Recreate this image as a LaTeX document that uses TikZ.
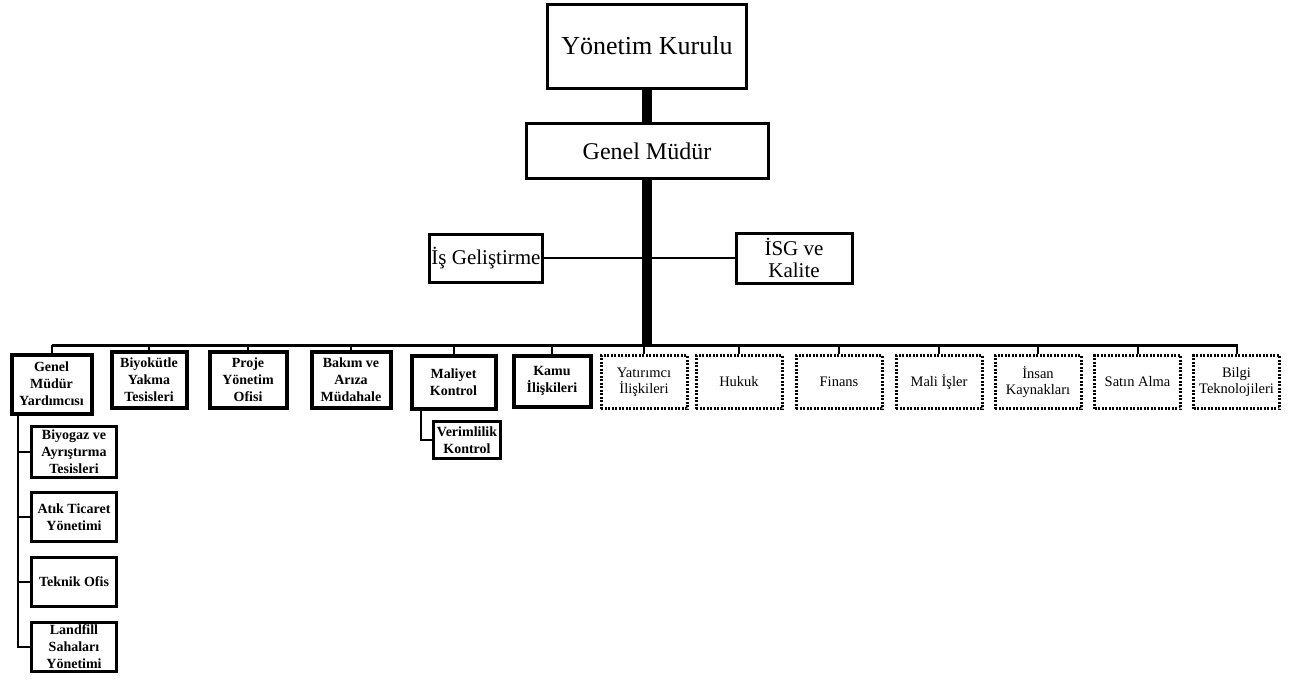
\documentclass[tikz,border=0pt]{standalone}
\usepackage{fontspec}
\setmainfont{Liberation Serif}
\usepackage{tikz}
\usetikzlibrary{positioning}
\tikzset{
x=1pt, y=-1pt, % pixel units of the scan, y grows downwards
topbox/.style={draw, line width=3pt, align=center, inner sep=2pt}, % upper boxes
unitbox/.style={draw, line width=4pt, align=center, inner sep=1pt, minimum height=56pt,
  font=\fontsize{14}{17}\selectfont\bfseries}, % solid unit boxes
dotbox/.style={draw, line width=3pt, dash pattern=on 2pt off 1.5pt, align=center, inner sep=1pt,
  minimum width=86pt, minimum height=53pt, font=\fontsize{14.5}{16}\selectfont}, % dotted unit boxes
subbox/.style={unitbox, line width=3.5pt, minimum width=85pt, minimum height=49pt}, % sub units
link/.style={line width=2pt}, % thin connectors
trunk/.style={line width=10pt}, % thick main line
}
\begin{document}
\begin{tikzpicture}
\useasboundingbox (0,0) rectangle (1307,680);
% top of the chart
\node[topbox, minimum width=199pt, minimum height=84pt, font=\fontsize{26}{28}\selectfont] (yk) at (647,46) {Yönetim Kurulu};
\node[topbox, minimum width=242pt, minimum height=55pt, font=\fontsize{24}{26}\selectfont] (gm) at (647,151) {Genel Müdür};
\node[topbox, minimum width=112pt, minimum height=48pt, font=\fontsize{21}{23}\selectfont] (isg) at (486,258) {İş Geliştirme};
\node[topbox, minimum width=116pt, minimum height=50pt, font=\fontsize{21}{22}\selectfont] (kal) at (794,258) {İSG ve\\Kalite};

% units
\node[unitbox, minimum width=80pt, minimum height=59pt] (gmy) at (51.5,384) {Genel\\Müdür\\Yardımcısı};
\node[unitbox, minimum width=75pt] (bk) at (149,380) {Biyokütle\\Yakma\\Tesisleri};
\node[unitbox, minimum width=77pt] (pyo) at (248,380) {Proje\\Yönetim\\Ofisi};
\node[unitbox, minimum width=79pt] (bam) at (351,380) {Bakım ve\\Arıza\\Müdahale};
\node[unitbox, minimum width=84pt, minimum height=53pt] (mk) at (453.5,382) {Maliyet\\Kontrol};
\node[unitbox, minimum width=77pt, minimum height=51pt] (ki) at (552,381) {Kamu\\İlişkileri};
\node[dotbox] (yi) at (644,382) {Yatırımcı\\İlişkileri};
\node[dotbox] (hk) at (739,382) {Hukuk};
\node[dotbox] (fn) at (839,382) {Finans};
\node[dotbox] (mi) at (939,382) {Mali İşler};
\node[dotbox] (ik) at (1038,382) {İnsan\\Kaynakları};
\node[dotbox] (sa) at (1137.5,382) {Satın Alma};
\node[dotbox] (bt) at (1236.5,382) {Bilgi\\Teknolojileri};

% sub units
\node[subbox, minimum height=51pt] (bg) at (74,452) {Biyogaz ve\\Ayrıştırma\\Tesisleri};
\node[subbox] (at) at (74,517) {Atık Ticaret\\Yönetimi};
\node[subbox] (to) at (74,582) {Teknik Ofis};
\node[subbox] (ls) at (74,647) {Landfill\\Sahaları\\Yönetimi};
\node[subbox, minimum width=67pt, minimum height=37pt] (vk) at (467,440) {Verimlilik\\Kontrol};

% lines
\coordinate (busL) at (51.5,345);
\coordinate (busR) at (1238,345);
\draw[trunk] (yk.south) -- (gm.north);
\draw[trunk] (gm.south) -- (gm.south |- busL);
\draw[link] (isg.east) -- (kal.west);
\draw[line width=3pt] (busL) -- (busR);
\foreach \n in {gmy,bk,pyo,bam,mk,ki,yi,hk,fn,mi,ik,sa,bt}
  \draw[link] (\n.north) -- (\n.north |- busL);
\foreach \n in {bg,at,to,ls}
  \draw[link] ([xshift=8pt]gmy.south west) |- (\n.west);
\draw[link] ([xshift=11pt]mk.south west) |- (vk.west);
\end{tikzpicture}
\end{document}
